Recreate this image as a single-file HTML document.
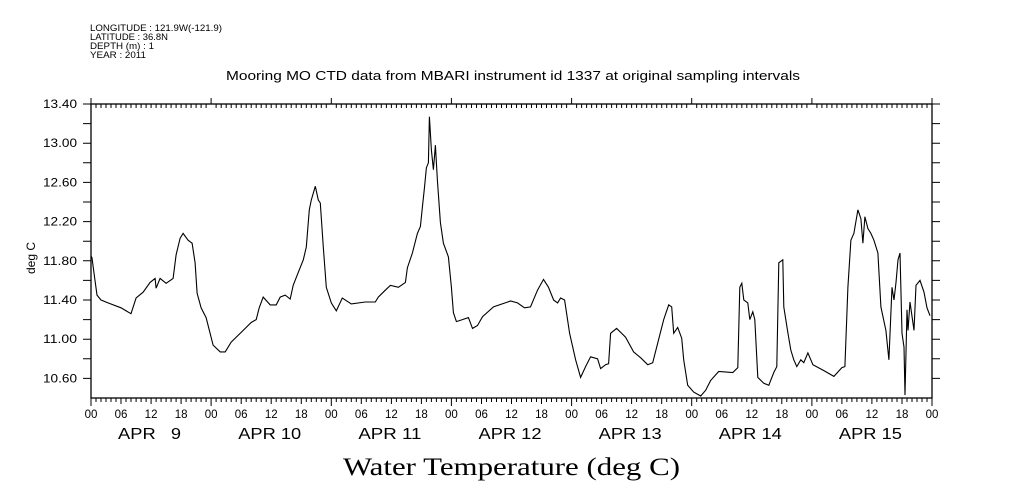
<!DOCTYPE html>
<html><head><meta charset="utf-8"><style>
html,body{margin:0;padding:0;background:#fff;}
svg{display:block;font-family:"Liberation Sans",sans-serif;}
</style></head><body>
<svg id="chart" width="1009" height="504" viewBox="0 0 1009 504" xmlns="http://www.w3.org/2000/svg">
<g font-size="9.5" fill="#000">
<text x="90" y="31" textLength="132" lengthAdjust="spacingAndGlyphs">LONGITUDE : 121.9W(-121.9)</text>
<text x="90" y="40" textLength="78" lengthAdjust="spacingAndGlyphs">LATITUDE : 36.8N</text>
<text x="90" y="49" textLength="64" lengthAdjust="spacingAndGlyphs">DEPTH (m) : 1</text>
<text x="90" y="58" textLength="56" lengthAdjust="spacingAndGlyphs">YEAR : 2011</text>
</g>
<text x="226" y="80" textLength="574" lengthAdjust="spacingAndGlyphs" font-size="12.5">Mooring MO CTD data from MBARI instrument id 1337 at original sampling intervals</text>
<text transform="translate(35,258) rotate(-90)" text-anchor="middle" font-size="12">deg C</text>
<text x="343" y="475" textLength="337" lengthAdjust="spacingAndGlyphs" font-family="Liberation Serif, serif" font-size="25">Water Temperature (deg C)</text>
<g id="axes"></g>
<g id="series"></g>
</svg>
<script>
const yTicks = [10.6, 11.0, 11.4, 11.8, 12.2, 12.6, 13.0, 13.4];
const yTickLabels = ["10.60","11.00","11.40","11.80","12.20","12.60","13.00","13.40"];
const hourLabels = ["00","06","12","18"];
const dayLabels = ["APR   9","APR 10","APR 11","APR 12","APR 13","APR 14","APR 15"];
const hours = [0,0.2,0.8,1.2,2,3.4,6,8,9,10.4,11.8,12.8,13,13.8,15,16.4,17,17.8,18.4,19.4,20.2,20.8,21.2,22,23,24.4,25.8,26.8,28,30.4,32,33,33.6,34.4,35.8,37,37.8,38.8,39.8,40.4,41.4,42.4,43,43.6,44,44.8,45.4,45.8,46.4,47,48,49,50.2,52,54.8,56.8,57.4,58.8,59.8,61.4,62.8,63.2,64.2,65.2,65.8,66.2,66.6,67,67.4,67.6,68,68.4,68.8,69.2,69.8,70.4,71.4,72,72.4,73,74.2,75.4,76.2,77.2,78.2,80.4,83.8,85.2,86.6,87.8,89.2,90.4,91.4,92.4,93.2,93.8,94.6,95.6,96.8,97.8,98.8,99.8,101.2,101.8,102.8,103.4,103.8,105,106.8,108.4,109.8,111.2,112.2,113.2,114.4,115.4,116,116.4,117.2,118,118.4,119.2,120.4,121.8,122.8,123.8,125.4,128.2,129.2,129.6,130,130.4,131.2,131.6,132.2,132.6,133.2,134.4,135.4,136.4,137,137.4,138.2,138.4,139.2,139.8,140.4,141,141.8,142.4,143.2,144.2,146.4,148.4,150,150.6,151.2,151.8,152.4,153.2,153.8,154.2,154.6,155.2,155.8,156.4,157.2,157.8,158.8,159.4,160,160.4,160.8,161.2,161.6,162,162.4,162.6,163,163.2,163.6,164.4,164.8,165.6,166.4,167,167.6];
const temps = [11.85,11.83,11.60,11.45,11.40,11.37,11.32,11.26,11.42,11.48,11.58,11.62,11.52,11.62,11.57,11.62,11.86,12.03,12.08,12.01,11.98,11.78,11.47,11.32,11.22,10.94,10.87,10.87,10.97,11.09,11.17,11.20,11.32,11.43,11.35,11.35,11.43,11.45,11.41,11.55,11.68,11.81,11.94,12.32,12.42,12.56,12.42,12.39,11.94,11.53,11.37,11.29,11.42,11.36,11.38,11.38,11.43,11.50,11.55,11.53,11.58,11.73,11.88,12.08,12.15,12.35,12.54,12.75,12.80,13.27,12.93,12.73,12.98,12.62,12.19,11.98,11.84,11.53,11.27,11.18,11.20,11.22,11.11,11.14,11.23,11.33,11.39,11.37,11.32,11.33,11.50,11.61,11.53,11.40,11.37,11.42,11.40,11.06,10.79,10.61,10.72,10.82,10.80,10.70,10.74,10.75,11.06,11.11,11.02,10.87,10.81,10.74,10.76,10.96,11.20,11.35,11.33,11.06,11.12,11.01,10.79,10.53,10.46,10.42,10.48,10.58,10.67,10.66,10.71,11.53,11.57,11.40,11.37,11.20,11.28,11.20,10.61,10.55,10.53,10.66,10.72,11.78,11.81,11.33,11.07,10.89,10.79,10.72,10.79,10.76,10.86,10.74,10.68,10.62,10.71,10.72,11.53,12.01,12.08,12.32,12.23,11.98,12.25,12.13,12.08,12.01,11.88,11.33,11.09,10.79,11.53,11.40,11.58,11.81,11.88,11.06,10.92,10.43,11.30,11.09,11.38,11.09,11.55,11.60,11.48,11.32,11.24];

const X0=91, X1=932, Y0=104, Y1=398, H=168, VMIN=10.4, VMAX=13.4;
const xs = h => X0 + (X1-X0)*h/H;
const ys = v => Y1 - (Y1-Y0)*(v-VMIN)/(VMAX-VMIN);
const NS="http://www.w3.org/2000/svg";
const axes=document.getElementById('axes');
function mk(tag, attrs, parent){const e=document.createElementNS(NS,tag);for(const k in attrs)e.setAttribute(k,attrs[k]);parent.appendChild(e);return e;}

const frame=mk('rect',{x:X0,y:Y0,width:X1-X0,height:Y1-Y0,fill:'none',stroke:'#000','stroke-width':1.3},axes);



let d='';
for(let h=0;h<=H;h++){
  const x=xs(h).toFixed(1);
  const day=h%24===0, six=h%6===0;
  d+=`M${x} ${Y0}v${day?-6:4}`;
  d+=`M${x} ${Y1}v${day?8:(six?6:4)}`;
}
for(let v=10.6;v<=13.41;v+=0.2){
  const y=ys(v).toFixed(1);
  d+=`M${X0-8} ${y}H${X0}M${X1} ${y}h8`;
}
const tk=mk('path',{d:d,stroke:'#000','stroke-width':1,fill:'none'},axes);



yTicks.forEach((v,i)=>{
  const t=mk('text',{x:43,y:ys(v)+4,'font-size':12,textLength:34,lengthAdjust:'spacingAndGlyphs'},axes);
  t.textContent=yTickLabels[i];
  
  
});
for(let h=0;h<=H;h+=6){
  const t=mk('text',{x:xs(h),y:418,'text-anchor':'middle','font-size':11.5},axes);
  t.textContent=hourLabels[(h/6)%4];
  
  
}
dayLabels.forEach((s,i)=>{
  const t=mk('text',{x:xs(i*24+12)-33,y:439,'font-size':16,textLength:63,lengthAdjust:'spacingAndGlyphs'},axes);
  t.setAttribute('style','white-space:pre');
  t.textContent=s;
  
  
});

const pts=hours.map((h,i)=>xs(h).toFixed(1)+','+ys(temps[i]).toFixed(1)).join(' ');
const line=mk('polyline',{points:pts,fill:'none',stroke:'#000','stroke-width':1.1},document.getElementById('series'));


</script>
</body></html>
